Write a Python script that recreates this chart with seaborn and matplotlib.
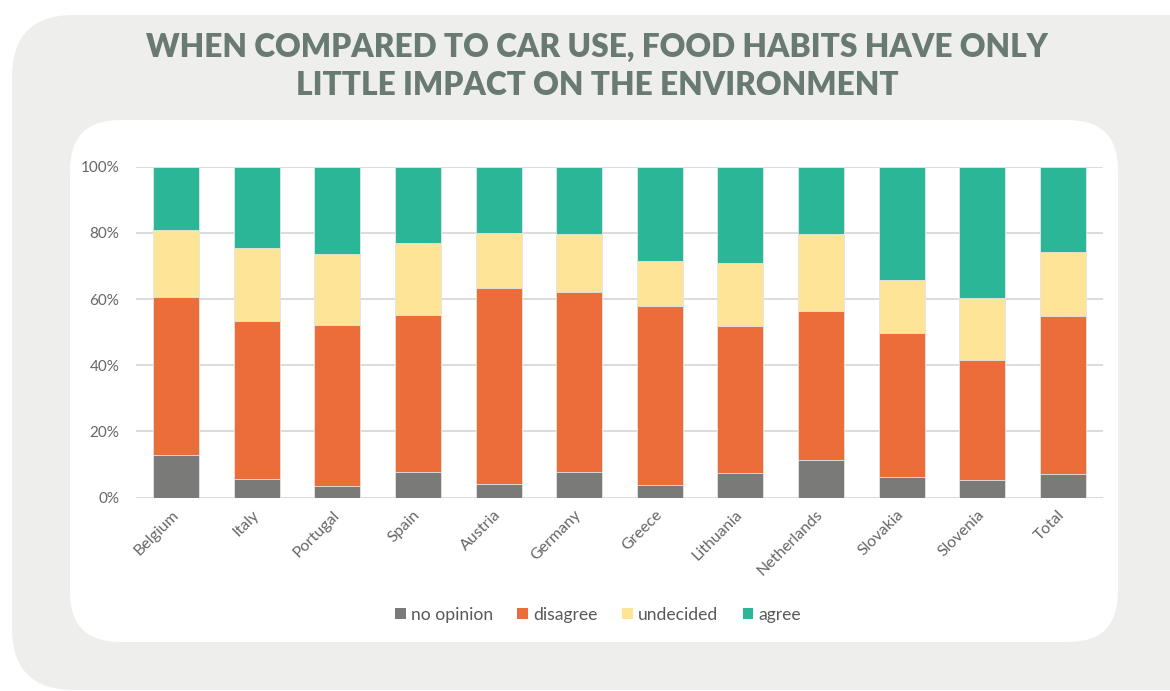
import matplotlib
matplotlib.use("Agg")
import matplotlib.pyplot as plt
from matplotlib.patches import FancyBboxPatch, Patch
from matplotlib.ticker import PercentFormatter
import seaborn as sns
import pandas as pd

countries = ["Belgium", "Italy", "Portugal", "Spain", "Austria", "Germany",
             "Greece", "Lithuania", "Netherlands", "Slovakia", "Slovenia", "Total"]
no_opinion = [12.9, 5.7, 3.5, 7.7, 4.0, 7.8, 3.9, 7.5, 11.2, 6.3, 5.4, 7.1]
disagree = [47.8, 47.7, 48.7, 47.5, 59.4, 54.2, 54.0, 44.4, 45.1, 43.3, 36.2, 47.8]
undecided = [20.1, 21.9, 21.3, 21.7, 16.7, 17.6, 13.7, 19.1, 23.3, 16.1, 18.8, 19.2]
agree = [19.2, 24.7, 26.5, 23.1, 19.9, 20.4, 28.4, 29.0, 20.4, 34.3, 39.6, 25.9]

series = ["no opinion", "disagree", "undecided", "agree"]
colors = ["#7a7a78", "#eb6e3a", "#fee496", "#2bb697"]

df = pd.DataFrame({"country": countries, "no opinion": no_opinion,
                   "disagree": disagree, "undecided": undecided, "agree": agree})
cum = df[series].cumsum(axis=1)
cum["country"] = df["country"]

sns.set_style("white")
plt.rcParams["font.family"] = ["Lato", "DejaVu Sans"]

W, H = 1170, 691
fig = plt.figure(figsize=(W / 100, H / 100), dpi=100)

# background panels (pixel coords)
bg = fig.add_axes([0, 0, 1, 1], zorder=0)
bg.set_xlim(0, W)
bg.set_ylim(H, 0)
bg.axis("off")
bg.add_patch(FancyBboxPatch((12, 15), 1230, 675, boxstyle="round,pad=0,rounding_size=62",
                            fc="#eeeeec", ec="none"))
bg.add_patch(FancyBboxPatch((70, 120), 1048, 522, boxstyle="round,pad=0,rounding_size=50",
                            fc="white", ec="none"))

ax = fig.add_axes([136 / W, (H - 497.5) / H, (1103 - 136) / W, 330.8 / H], zorder=1)
ax.patch.set_alpha(0)

# stacked bars: draw cumulative totals from the top layer down
for name, c in reversed(list(zip(series, colors))):
    sns.barplot(data=cum, x="country", y=name, color=c, width=0.57,
                edgecolor="#e6e6e6", linewidth=0.6, saturation=1, ax=ax, zorder=3)

ax.set_ylim(0, 100)
ax.set_xlim(-0.5, len(countries) - 0.5)
ax.set_yticks(range(0, 101, 20))
ax.yaxis.set_major_formatter(PercentFormatter(decimals=0))
ax.yaxis.grid(True, color="#d9d9d9", lw=1.3, zorder=0)
ax.set_axisbelow(True)
sns.despine(ax=ax, left=True, bottom=True)
ax.set_xlabel("")
ax.set_ylabel("")
ax.tick_params(axis="y", length=0, labelsize=11, colors="#666666", pad=12)
ax.tick_params(axis="x", length=0, labelsize=11.5, colors="#666666", pad=11)
for lab in ax.get_xticklabels():
    lab.set_rotation(45)
    lab.set_ha("right")
    lab.set_va("center")
    lab.set_rotation_mode("anchor")

fig.text(597 / W, 1 - 66.5 / H,
         "WHEN COMPARED TO CAR USE, FOOD HABITS HAVE ONLY\nLITTLE IMPACT ON THE ENVIRONMENT",
         ha="center", va="center", fontsize=22.8, fontweight="heavy", color="#687a72",
         linespacing=1.37)

handles = [Patch(fc=c, ec="none") for c in colors]
fig.legend(handles, series, loc="center", bbox_to_anchor=(598 / W, 1 - 615 / H),
           ncol=4, frameon=False, handlelength=0.6, handleheight=0.6,
           handletextpad=0.3, columnspacing=1.4, fontsize=12.6, labelcolor="#595959")

fig.savefig("out.png", dpi=100)
